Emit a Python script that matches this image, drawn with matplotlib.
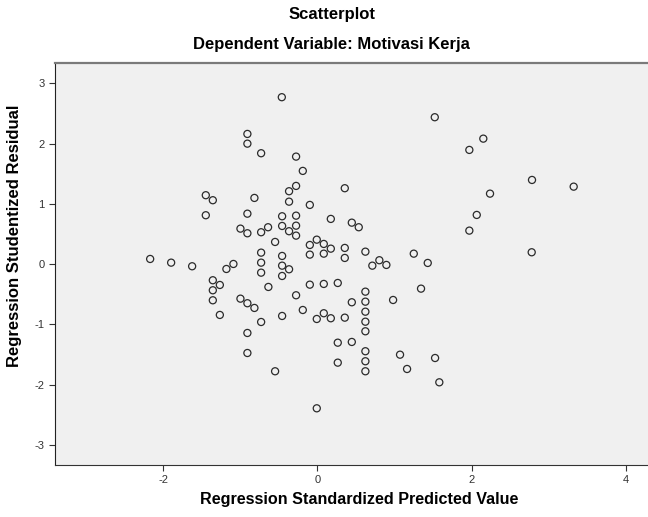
import matplotlib.pyplot as plt

# Regression Standardized Predicted Value
pred = [-0.907, -0.907, -0.729, -1.446, -1.355, -0.816, -1.446, -0.907, -0.997, -0.907,
        -2.167, -1.895, -1.623, -1.088, -1.179, -1.355, -1.264, -1.355, -1.355, -1.264,
        -0.997, -0.907, -0.816, -0.729, -0.907, -0.907, -0.729, -0.729, -0.729, -0.461,
        1.521, -0.276, -0.189, -0.276, -0.367, 0.355, -0.367, -0.098, -0.457, -0.276,
        0.174, -0.729, -0.639, -0.457, -0.276, -0.367, -0.276, 0.446, 0.536, -0.548,
        -0.098, -0.008, 0.083, 0.174, 0.083, -0.098, 0.355, 0.355, 0.622, -0.457,
        -0.457, -0.367, 0.712, 0.803, 0.894, 1.249, 1.430, -0.457, -0.635, -0.098,
        0.083, 0.264, -0.276, -0.457, -0.189, -0.008, 0.083, 0.174, 0.355, 0.446,
        0.622, 0.622, 0.622, 0.622, 0.622, 0.622, 0.622, 0.622, 0.264, 0.446,
        0.264, -0.548, -0.008, 0.981, 1.343, 1.071, 1.162, 1.525, 1.580, 2.777,
        2.150, 1.969, 2.781, 3.321, 2.237, 2.065, 1.969]

# Regression Studentized Residual
resid = [2.159, 1.998, 1.839, 1.143, 1.060, 1.098, 0.811, 0.837, 0.589, 0.512,
         0.086, 0.025, -0.035, 0.003, -0.080, -0.267, -0.345, -0.433, -0.599, -0.842,
         -0.572, -0.648, -0.726, -0.959, -1.141, -1.473, 0.191, 0.025, -0.141, 2.768,
         2.436, 1.783, 1.546, 1.297, 1.209, 1.259, 1.036, 0.982, 0.794, 0.804,
         0.750, 0.529, 0.612, 0.633, 0.638, 0.546, 0.473, 0.688, 0.612, 0.368,
         0.318, 0.406, 0.335, 0.257, 0.174, 0.158, 0.269, 0.103, 0.207, 0.136,
         -0.025, -0.085, -0.025, 0.065, -0.013, 0.174, 0.020, -0.196, -0.378, -0.340,
         -0.328, -0.312, -0.516, -0.859, -0.760, -0.909, -0.814, -0.897, -0.887, -0.632,
         -0.456, -0.622, -0.788, -0.954, -1.113, -1.444, -1.610, -1.776, -1.302, -1.290,
         -1.633, -1.776, -2.390, -0.594, -0.406, -1.501, -1.738, -1.556, -1.959, 0.197,
         2.081, 1.894, 1.396, 1.285, 1.169, 0.816, 0.556]

x_ticks = [-2, 0, 2, 4]
y_ticks = [-3, -2, -1, 0, 1, 2, 3]

plt.rcParams['font.family'] = ['Liberation Sans', 'DejaVu Sans']
plt.rcParams['axes.unicode_minus'] = False

fig = plt.figure(figsize=(6.48, 5.17), dpi=100)
ax = fig.add_axes([55 / 648, 52 / 517, 595 / 648, 402.3 / 517])
ax.set_facecolor('#F0F0F0')

ax.scatter(pred, resid, s=26, facecolors='none', edgecolors='#2b2b2b', linewidths=0.9)

ax.set_xlim(-3.40, 4.31)
ax.set_ylim(-3.33, 3.34)
ax.set_xticks(x_ticks)
ax.set_yticks(y_ticks)
ax.tick_params(labelsize=8, labelcolor='#333333', length=4, width=0.8, color='#333333')

ax.spines['right'].set_visible(False)
ax.spines['top'].set_color('#7a7a7a')
ax.spines['top'].set_linewidth(1.6)
ax.spines['left'].set_color('#222222')
ax.spines['bottom'].set_color('#333333')

# judul dan label sumbu
fig.text(0.512, 0.971, 'Scatterplot', ha='center', va='center', fontsize=12, fontweight='bold')
fig.text(0.512, 0.913, 'Dependent Variable: Motivasi Kerja', ha='center', va='center',
         fontsize=12, fontweight='bold')
fig.text(0.555, 0.033, 'Regression Standardized Predicted Value', ha='center', va='center',
         fontsize=11.6, fontweight='bold')
fig.text(0.022, 0.544, 'Regression Studentized Residual', ha='center', va='center',
         rotation=90, fontsize=12, fontweight='bold')

fig.savefig('out.png', dpi=100)
